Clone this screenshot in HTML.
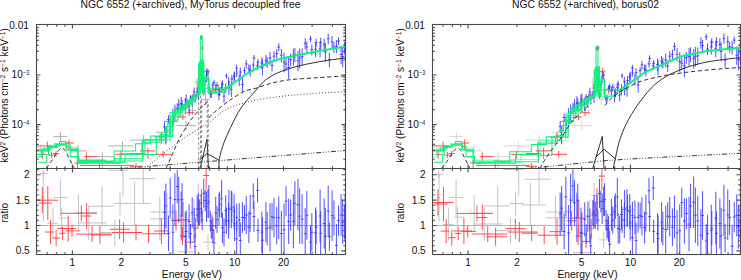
<!DOCTYPE html>
<html><head><meta charset="utf-8"><style>
html,body{margin:0;padding:0;background:#fff;width:741px;height:280px;overflow:hidden}
svg{display:block}
.t{font-family:"Liberation Sans",sans-serif;font-size:10.1px;fill:#111}
.tt{font-family:"Liberation Sans",sans-serif;font-size:10.35px;fill:#111}
.s{font-family:"Liberation Sans",sans-serif;font-size:6.6px;fill:#111}
</style></head><body>
<svg width="741" height="280" viewBox="0 0 741 280">
<defs><clipPath id="pc"><rect x="36.5" y="24.5" width="309" height="230"/><rect x="432.5" y="24.5" width="308" height="230"/></clipPath></defs><g clip-path="url(#pc)"><path d="M53.4 136.6H67.4M60.6 132V140.9M74.6 150.9H86M78.1 145.1V154.4M92.6 156.6H114M102.3 151.6V168M107.6 145.9H134M122.6 140.9V151.6M129.7 140.1H154.3M143.6 135.1V143.7M155.7 132.3H172.9M166.4 128V142.3M176.4 125.6H196.4M186 121V130M188.6 110.6H196.4M192.5 106V115M36.4 150H48M41 146V156M195 82.25H199.4M197 78V87M201 99.4H210M205.6 94V105M212 89.4H224M218.75 84V96" fill="none" stroke="#a8a8a8" stroke-width="0.9"/>
<path d="M36.4 145.9H52M47.4 141.6V151.6M65.3 143H73.9M68.9 139.4V149.4M39.6 154.4H46M42.4 150.9V158.7M48 155.1H55M51.7 151.6V158M53 153.5H59M56 150.9V156.6M74.6 163H86M77.4 160.1V168M84 156.6H97.6M86.6 152.3V160.9M80 165.4H134M99.5 163.7V168M115.4 154.4H128.3M121 150.5V158.5M130 153.5H145M142.9 149.4V158M140 150.9H155M147.9 148V158.7M155.7 154.4H171.4M163 151V157.8M154.3 137H164.3M161.4 132V144M130 166.3H141.4M136 163V168M165 121.3H178M173.6 118.4V124.1M178 117H186M182.9 114V120M186.4 112.7H194.3M189.3 109V116M190 97H196M192.9 94V100M203.75 71.25H209.75M206.9 68V75M200.5 48H204M202.5 45V51M196 88H200M198 84V92M209 90H219M213 87V94" fill="none" stroke="#ff3c3c" stroke-width="0.9"/>
<path d="M163.06 126.96H165.86M164.46 121.62V132.83M167.07 119.51H169.87M168.47 115.32V124.13M171.49 117.33H174.29M172.89 108.71V126.82M175.83 108.37H178.63M177.23 103.35V113.89M179.8 103.56H182.6M181.2 97.14V110.63M183.88 105.88H186.68M185.28 97.99V114.55M187.68 106.19H190.48M189.08 99.64V113.38M190.8 100.67H193.58M192.19 95.4V106.46M193.65 97.63H196.45M195.05 93.4V102.28M197 94.21H199.8M198.4 88.92V100.02M200.3 37.7H202.2M201.25 35.9V39.68M202.36 90.43H205.16M203.76 85.97V95.33M205.32 75.17H207.6M206.46 69.54V81.36M207.6 88H210.13M208.86 82.82V93.7M210.13 94.22H212.4M211.26 90.85V97.94M212.57 82.78H215.37M213.97 79.89V85.96M215.64 85.56H218.44M217.04 82.23V89.23M218.54 91.53H220.75M219.65 87.34V96.14M221.03 84.11H223.83M222.43 80.28V88.32M224.37 87.9H227.17M225.77 83.04V93.25M227.52 87.72H230.32M228.92 81.23V94.87M230.45 78.95H233.25M231.85 74.85V83.46M233.3 75.82H235.65M234.48 71.49V80.59M235.65 73.28H237.83M236.74 69.98V76.91M237.83 79.85H240.63M239.23 74.17V86.09M241.05 84.53H243.85M242.45 77.6V92.15M244.82 63.95H247.62M246.22 59.92V68.38M248.77 70.4H251.57M250.17 64.83V76.54M252.56 58.03H255.36M253.96 54.97V61.41M256.57 61.9H259.37M257.97 58.84V65.28M260.98 67.1H263.78M262.38 59.49V75.48M265.77 62.07H268.57M267.17 56.95V67.71M270.64 65.52H273.44M272.04 60.08V71.5M275.31 53.54H278.11M276.71 48.92V58.63M279.96 55.2H282.76M281.36 48.98V62.05M284.63 63.95H287.43M286.03 57.51V71.03M289.25 59.53H292.05M290.65 53.73V65.9M293.5 54.91H296.3M294.9 48.19V62.31M298.29 58.09H301.09M299.69 48.59V68.53M303.78 43.44H306.58M305.18 38.2V49.2M309.12 39.02H311.92M310.52 35.94V42.42M314.17 49.34H316.97M315.57 42.23V57.15M318.7 48.83H321.5M320.1 41.41V56.99M322.76 44.89H325.56M324.16 38.64V51.76M326.8 38.69H329.6M328.2 33.59V44.3M330.67 41.92H333.47M332.07 35.99V48.44M335.02 46.36H337.82M336.42 40.08V53.26M339.69 54.55H342.49M341.09 45.79V64.18M343.25 47.52H345.6M344.43 41.87V53.73M164.5 135.54H167.3M165.9 127.56V144.32M168.8 126.64H171.6M170.2 119.4V134.6M173.5 112.33H176.3M174.9 104.73V120.7M177.37 104.91H180.17M178.77 99.03V111.38M180.67 104.66H183.47M182.07 99.9V109.9M184.77 100H187.57M186.17 94.6V105.94M189.11 97.94H191.91M190.51 95.09V101.07M192.75 91.9H195.55M194.15 87.58V96.65M195.83 91.88H198.47M197.15 88.18V95.96M198.47 87.73H200.72M199.6 86.17V89.45M200.78 63.18H203.58M202.18 61.16V65.41M203.8 81.65H206.6M205.2 78.58V85.03M206.75 73.03H209.24M208 69.47V76.94M209.24 94.07H211.51M210.37 90.55V97.95M211.51 85.16H214.07M212.79 82.16V88.46M214.33 88.58H217.13M215.73 84.3V93.29M217.54 94.41H220.34M218.94 88.8V100.57M220.48 87.49H222.78M221.63 82.32V93.18M222.78 96.22H225.24M224.01 90.24V102.8M225.24 75.84H227.53M226.39 73.3V78.63M227.53 81.42H229.76M228.64 76.87V86.42M229.92 89.34H232.72M231.32 82.27V97.11M232.89 76.92H235.26M234.08 72.6V81.66M235.28 68.06H238.08M236.68 64.85V71.58M238.91 72.03H241.71M240.31 67.63V76.88M243.06 70.67H245.86M244.46 67.21V74.49M247.49 68.66H250.29M248.89 64.36V73.4M251.87 65.06H254.67M253.27 61.68V68.77M256.15 65.88H258.95M257.55 62.24V69.88M260.43 62.88H263.23M261.83 57.25V69.08M264.48 60.31H267.28M265.88 54.95V66.19M268.62 58.03H271.42M270.02 51.88V64.8M272.62 56.16H275.42M274.02 51.11V61.72M277.37 47.11H280.17M278.77 43.16V51.45M282.65 62.11H285.45M284.05 52.85V72.29M287.26 67.45H290.06M288.66 57.14V78.8M291.96 56.76H294.76M293.36 48.46V65.9M296.57 60.64H299.37M297.97 51.12V71.12M300.68 56.57H303.48M302.08 48.35V65.62M305.44 46.98H308.24M306.84 41.28V53.25M310.44 49.68H313.24M311.84 44.37V55.52M314.7 42.63H317.5M316.1 38.9V46.72M319.3 42.46H322.1M320.7 37.64V47.77M324.01 51.86H326.81M325.41 42.85V61.77M327.99 59.51H330.79M329.39 52.6V67.11M332.53 47.09H335.33M333.93 41.86V52.83M337.14 40.99H339.94M338.54 37.34V45.02M341.28 56.62H344.08M342.68 46.97V67.23M344.74 50.48H345.6M345.17 42.36V59.4" fill="none" stroke="#3a3aff" stroke-width="0.9"/>
<line x1="36.5" y1="225.5" x2="345.5" y2="225.5" stroke="#7ee45c" stroke-width="1"/>
<path d="M40 173.5H47.8M43.1 169.5V177.5M41 197H45M43.3 173V221M53.3 197.6H67.4M60.4 179.6V215.6M47.3 223.2H57.7M52.9 207.2V239.2M58.5 218H68.2M61.7 208V228M74.6 212.4H97.1M78.5 194.4V230.4M77.8 222.9H106.7M88.7 205.9V239.9M87.9 206.2H113.8M102 186.2V226.2M100.3 232.5H116.4M114.8 219.5V245.5M107.5 170.4H128M123 168.5V196.4M113.8 203.4H128M120 191.4V215.4M129.1 178.7H155.1M143.3 168.5V203.7M126 203.4H150.4M134.6 181.4V225.4M150.1 218.8H174.2M159.8 196.8V240.8M150 212H175M167 193V231M177.4 251.8H196.7M186.3 243.8V254.5M195.2 195.5H201.5M198.3 183.5V207.5M203.2 242.2H212.8M208 234.2V250.2M190 215H198M194 199V231" fill="none" stroke="#bcbcbc" stroke-width="0.9"/>
<path d="M36.4 200.2H58M42.3 187.2V213.2M38.4 203H52M47.8 186V220M44.8 232H53.7M50.5 220V244M52.9 238.1H60.1M56.1 230.1V246.1M59.3 233.3H65.7M62.5 226.8V239.8M57.7 228.5H76.2M68.2 215.5V241.5M65.7 230.9H80.2M72 224.9V236.9M61 213.3H97M81.3 205.3V221.3M81 216H91.5M86.6 203V229M76.2 234.1H111.6M92 226.1V242.1M90.7 234.9H111.6M99.9 225.9V243.9M110 229.3H130M119.6 219.3V239.3M112 232.5H142M123.6 222.5V242.5M126 232.5H142.1M136 224.5V240.5M142.1 233.8H169.4M148.5 224.8V242.8M154.1 231H168.6M161.4 218V244M171 220.5H180.7M176 210.5V230.5M176 220H190M183.1 202V238M186.3 242.2H194.3M190.3 235.7V248.7M196 215H200M198 201V229M200 203H202.5M201.3 189V217M203 175.5H209.3M206.2 168.5V189.5M209.3 226H216M212 214V238M193 228H198M195.5 218V238M180 236H186M182.5 227V245" fill="none" stroke="#ff3c3c" stroke-width="0.9"/>
<path d="M163.06 212.29H165.86M164.46 190.83V233.75M167.07 233.35H169.87M168.47 215.56V251.14M171.49 232.22H174.29M172.89 204.51V254.5M175.83 186.52H178.63M177.23 169.86V203.19M179.8 215.97H182.6M181.2 191.53V240.42M183.88 236.59H186.68M185.28 211.8V254.5M187.68 221.51H190.48M189.08 204.37V238.64M190.8 212.55H193.58M192.19 197.32V227.77M193.65 246.49H196.45M195.05 234.31V254.5M197 209.15H199.8M198.4 193.18V225.12M200.3 208.65H202.2M201.25 194.11V223.2M202.36 193.26H205.16M203.76 178.59V207.92M205.32 206.54H207.6M206.46 191.1V221.97M207.6 201.4H210.13M208.86 185.01V217.78M210.13 229.41H212.4M211.26 220.01V238.81M212.57 242.77H215.37M213.97 229.34V254.5M215.64 219.63H218.44M217.04 206.11V233.14M218.54 204.32H220.75M219.65 191.6V217.05M221.03 227.81H223.83M222.43 212.6V243.03M224.37 210.33H227.17M225.77 195.22V225.45M227.52 208.82H230.32M228.92 189.59V228.04M230.45 207.06H233.25M231.85 191.35V222.78M233.3 223.71H235.65M234.48 206.03V241.39M235.65 217.36H237.83M236.74 203.67V231.06M237.83 219.98H240.63M239.23 203.08V236.88M241.05 217.44H243.85M242.45 202.13V232.75M244.82 215.07H247.62M246.22 195.92V234.23M248.77 213.33H251.57M250.17 194.92V231.75M252.56 216.57H255.36M253.96 201.24V231.91M256.57 230.31H259.37M257.97 218.7V241.91M260.98 240.25H263.78M262.38 217.25V254.5M265.77 228.61H268.57M267.17 211.95V245.26M270.64 216.79H273.44M272.04 202.91V230.66M275.31 225.62H278.11M276.71 206.82V244.43M279.96 233.62H282.76M281.36 210.85V254.5M284.63 201.14H287.43M286.03 186.14V216.14M289.25 215.09H292.05M290.65 199.46V230.72M293.5 203.3H296.3M294.9 181.21V225.4M298.29 216.09H301.09M299.69 188.46V243.71M303.78 233.64H306.58M305.18 207.87V254.5M309.12 242.21H311.92M310.52 225.35V254.5M314.17 232.83H316.97M315.57 207.46V254.5M318.7 215.95H321.5M320.1 189.62V242.27M322.76 223.58H325.56M324.16 198.55V248.61M326.8 211.14H329.6M328.2 185.5V236.78M330.67 215.66H333.47M332.07 190.34V240.98M335.02 245.36H337.82M336.42 224.03V254.5M339.69 215.1H342.49M341.09 194.13V236.07M343.25 222.24H345.6M344.43 205.27V239.22M164.5 205.95H167.3M165.9 183.58V228.31M168.8 198.02H171.6M170.2 178.12V217.91M173.5 199.56H176.3M174.9 173.36V225.75M177.37 199.74H180.17M178.77 176.79V222.7M180.67 199.72H183.47M182.07 183.14V216.3M184.77 231.46H187.57M186.17 210.53V252.4M189.11 233.67H191.91M190.51 223.96V243.38M192.75 225.26H195.55M194.15 207.85V242.67M195.83 209.03H198.47M197.15 196.14V221.92M198.47 212.57H200.72M199.6 199.31V225.83M200.78 219.9H203.58M202.18 209.64V230.16M203.8 200.49H206.6M205.2 189.67V211.31M206.75 203.5H209.24M208 189V218M209.24 221.08H211.51M210.37 210.88V231.28M211.51 230.11H214.07M212.79 217.2V243.03M214.33 212.89H217.13M215.73 196.87V228.91M217.54 209.63H220.34M218.94 193.61V225.64M220.48 198.85H222.78M221.63 179.84V217.86M222.78 232.29H225.24M224.01 218.23V246.35M225.24 220.71H227.53M226.39 207.53V233.88M227.53 220.78H229.76M228.64 202.96V238.6M229.92 209.39H232.72M231.32 190.6V228.17M232.89 211.63H235.26M234.08 194.19V229.07M235.28 238.77H238.08M236.68 221.35V254.5M238.91 240.51H241.71M240.31 222.4V254.5M243.06 217.74H245.86M244.46 204.83V230.64M247.49 227.17H250.29M248.89 211.29V243.06M251.87 196.18H254.67M253.27 183.31V209.04M256.15 190.36H258.95M257.55 178.31V202.4M260.43 232.12H263.23M261.83 211.6V252.64M264.48 222.16H267.28M265.88 202.11V242.21M268.62 227.35H271.42M270.02 203.31V251.39M272.62 217.74H275.42M274.02 198.05V237.43M277.37 217.72H280.17M278.77 196.45V238.99M282.65 229.66H285.45M284.05 203.27V254.5M287.26 221.43H290.06M288.66 198.88V243.98M291.96 221.22H294.76M293.36 194.08V248.36M296.57 204.7H299.37M297.97 178.98V230.42M300.68 219.13H303.48M302.08 194.11V244.15M305.44 215.24H308.24M306.84 190.88V239.6M310.44 232.31H313.24M311.84 213.36V251.27M314.7 227.08H317.5M316.1 209.95V244.22M319.3 233.26H322.1M320.7 211.15V254.5M324.01 236.42H326.81M325.41 207.98V254.5M327.99 236.62H330.79M329.39 222.57V250.67M332.53 217.96H335.33M333.93 200.46V235.45M337.14 220.58H339.94M338.54 205.41V235.75M341.28 222.12H344.08M342.68 200.3V243.93M344.74 218.5H345.6M345.17 195.38V241.61" fill="none" stroke="#3a3aff" stroke-width="0.9"/>
<path d="M449.1 136.6H463.1M456.3 132V140.9M470.3 150.9H481.7M473.8 145.1V154.4M488.3 156.6H509.7M498 151.6V168M503.3 145.9H529.7M518.3 140.9V151.6M525.4 140.1H550M539.3 135.1V143.7M551.4 132.3H568.6M562.1 128V142.3M572.1 125.6H592.1M581.7 121V130M584.3 110.6H592.1M588.2 106V115M432.1 150H443.7M436.7 146V156M590.7 82.25H595.1M592.7 78V87M596.7 99.4H605.7M601.3 94V105M607.7 89.4H619.7M614.45 84V96" fill="none" stroke="#d2d2d2" stroke-width="0.9"/>
<path d="M432.1 145.9H447.7M443.1 141.6V151.6M461 143H469.6M464.6 139.4V149.4M435.3 154.4H441.7M438.1 150.9V158.7M443.7 155.1H450.7M447.4 151.6V158M448.7 153.5H454.7M451.7 150.9V156.6M470.3 163H481.7M473.1 160.1V168M479.7 156.6H493.3M482.3 152.3V160.9M475.7 165.4H529.7M495.2 163.7V168M511.1 154.4H524M516.7 150.5V158.5M525.7 153.5H540.7M538.6 149.4V158M535.7 150.9H550.7M543.6 148V158.7M551.4 154.4H567.1M558.7 151V157.8M550 137H560M557.1 132V144M525.7 166.3H537.1M531.7 163V168M560.7 121.3H573.7M569.3 118.4V124.1M573.7 117H581.7M578.6 114V120M582.1 112.7H590M585 109V116M585.7 97H591.7M588.6 94V100M599.45 71.25H605.45M602.6 68V75M596.2 48H599.7M598.2 45V51M591.7 88H595.7M593.7 84V92M604.7 90H614.7M608.7 87V94" fill="none" stroke="#ff3c3c" stroke-width="0.9"/>
<path d="M558.76 126.54H561.56M560.16 121.07V132.55M562.77 117.5H565.57M564.17 113.48V121.92M567.19 116.92H569.99M568.59 108.19V126.51M571.53 107.89H574.33M572.93 102.9V113.37M575.5 102.82H578.3M576.9 96.27V110.02M579.58 101.81H582.38M580.98 94.55V109.79M583.38 103.9H586.18M584.78 97.57V110.86M586.5 101.41H589.28M587.89 95.83V107.56M589.35 97.35H592.15M590.75 93.2V101.91M592.7 96.85H595.5M594.1 91.42V102.82M596 48.63H597.9M596.95 46.81V50.64M598.06 93.76H600.86M599.46 89.29V98.67M601.02 77.18H603.3M602.16 71.41V83.53M603.3 92H605.83M604.56 86.93V97.57M605.83 98.49H608.1M606.96 95.13V102.18M608.27 86.66H611.07M609.67 83.65V89.98M611.34 87.21H614.14M612.74 83.85V90.91M614.24 92.66H616.45M615.35 88.38V97.38M616.73 84.67H619.53M618.13 80.8V88.92M620.07 89.49H622.87M621.47 84.34V95.16M623.22 88.1H626.02M624.62 81.57V95.29M626.15 80.32H628.95M627.55 76.03V85.05M629 75.9H631.35M630.18 71.63V80.59M631.35 73.11H633.53M632.44 69.9V76.64M633.53 79.42H636.33M634.93 73.95V85.43M636.75 85.04H639.55M638.15 78.13V92.64M640.52 64.89H643.32M641.92 60.78V69.42M644.47 70.3H647.27M645.87 64.73V76.42M648.26 58.31H651.06M649.66 55.25V61.68M652.27 63.24H655.07M653.67 60.1V66.69M656.68 67.13H659.48M658.08 59.78V75.2M661.47 62.95H664.27M662.87 57.84V68.57M666.34 65.97H669.14M667.74 60.58V71.89M671.01 54.36H673.81M672.41 49.59V59.6M675.66 54.28H678.46M677.06 48.15V61.03M680.33 63.07H683.13M681.73 56.52V70.28M684.95 57.63H687.75M686.35 51.96V63.87M689.2 54.34H692M690.6 47.39V61.97M693.99 56.39H696.79M695.39 46.99V66.73M699.48 42.82H702.28M700.88 37.4V48.78M704.82 36.86H707.62M706.22 33.87V40.14M709.87 47.05H712.67M711.27 40.29V54.49M714.4 48.89H717.2M715.8 41.25V57.3M718.46 44.45H721.26M719.86 38.21V51.33M722.5 38.29H725.3M723.9 33.24V43.84M726.37 41.78H729.17M727.77 35.92V48.22M730.72 47.32H733.52M732.12 40.89V54.39M735.39 55.17H738.19M736.79 46.38V64.84M738.95 48.3H741.3M740.13 42.63V54.55M560.2 135.24H563M561.6 127.04V144.26M564.5 125.29H567.3M565.9 118.15V133.15M569.2 112.14H572M570.6 104.49V120.55M573.07 105.15H575.87M574.47 99.05V111.87M576.37 103.37H579.17M577.77 98.58V108.64M580.47 99.12H583.27M581.87 93.49V105.31M584.81 97H587.61M586.21 94.13V100.16M588.45 92.07H591.25M589.85 87.69V96.89M591.53 94.61H594.17M592.85 90.69V98.92M594.17 91.86H596.42M595.3 90.22V93.66M596.48 71.11H599.28M597.88 69.08V73.35M599.5 84.48H602.3M600.9 81.38V87.9M602.45 75.42H604.94M603.7 71.96V79.23M604.94 98.69H607.21M606.07 95.2V102.53M607.21 88.24H609.77M608.49 85.3V91.47M610.03 91.25H612.83M611.43 86.86V96.09M613.24 95.91H616.04M614.64 90.14V102.26M616.18 87.41H618.48M617.33 82.34V92.98M618.48 95.12H620.94M619.71 89.45V101.36M620.94 75.73H623.23M622.09 73.23V78.48M623.23 81.36H625.46M624.34 76.87V86.3M625.62 89.14H628.42M627.02 82.2V96.78M628.59 77.26H630.96M629.78 72.96V82M630.98 67.96H633.78M632.38 64.84V71.4M634.61 72.59H637.41M636.01 68.18V77.45M638.76 70.48H641.56M640.16 67.12V74.16M643.19 68.87H645.99M644.59 64.54V73.63M647.57 63.83H650.37M648.97 60.65V67.32M651.85 66.07H654.65M653.25 62.52V69.97M656.13 64.61H658.93M657.53 58.79V71.01M660.18 61.31H662.98M661.58 55.95V67.21M664.32 59.94H667.12M665.72 53.52V67M668.32 56.21H671.12M669.72 51.24V61.68M673.07 46.58H675.87M674.47 42.69V50.87M678.35 61.55H681.15M679.75 52.12V71.92M682.96 65.91H685.76M684.36 55.65V77.18M687.66 56.54H690.46M689.06 47.86V66.08M692.27 58.53H695.07M693.67 49.26V68.73M696.38 55.82H699.18M697.78 47.38V65.1M701.14 45.63H703.94M702.54 39.91V51.93M706.14 49.07H708.94M707.54 43.6V55.07M710.4 42.13H713.2M711.8 38.33V46.32M715 41.93H717.8M716.4 37.08V47.26M719.71 51.39H722.51M721.11 42.43V61.25M723.69 60.17H726.49M725.09 53.07V67.99M728.23 47.14H731.03M729.63 41.96V52.83M732.84 40.08H735.64M734.24 36.63V43.88M736.98 59.23H739.78M738.38 48.83V70.66M740.44 51.4H741.3M740.87 43.21V60.41" fill="none" stroke="#3a3aff" stroke-width="0.9"/>
<line x1="432.5" y1="225.5" x2="740.5" y2="225.5" stroke="#7ee45c" stroke-width="1"/>
<path d="M435.7 174.62H443.5M438.8 170.62V178.62M436.7 197.71H440.7M439 173.71V221.71M449 197.66H463.1M456.1 179.66V215.66M443 224.55H453.4M448.6 208.55V240.55M454.2 217.24H463.9M457.4 207.24V227.24M470.3 213.19H492.8M474.2 195.19V231.19M473.5 224.01H502.4M484.4 207.01V241.01M483.6 205.91H509.5M497.7 185.91V225.91M496 230.71H512.1M510.5 217.71V243.71M503.2 169.49H523.7M518.7 168.5V195.49M509.5 203.64H523.7M515.7 191.64V215.64M524.8 179.23H550.8M539 168.5V204.23M521.7 204.95H546.1M530.3 182.95V226.95M545.8 217.8H569.9M555.5 195.8V239.8M545.7 212H570.7M562.7 193V231M573.1 252.45H592.4M582 244.45V254.5M590.9 195.34H597.2M594 183.34V207.34M598.9 239.83H608.5M603.7 231.83V247.83M585.7 215.81H593.7M589.7 199.81V231.81" fill="none" stroke="#bcbcbc" stroke-width="0.9"/>
<path d="M432.1 202.51H453.7M438 189.51V215.51M434.1 204H447.7M443.5 187V221M440.5 231.08H449.4M446.2 219.08V243.08M448.6 237.69H455.8M451.8 229.69V245.69M455 233.52H461.4M458.2 227.02V240.02M453.4 230.99H471.9M463.9 217.99V243.99M461.4 231.52H475.9M467.7 225.52V237.52M456.7 213.41H492.7M477 205.41V221.41M476.7 217.56H487.2M482.3 204.56V230.56M471.9 234.02H507.3M487.7 226.02V242.02M486.4 236.76H507.3M495.6 227.76V245.76M505.7 228.61H525.7M515.3 218.61V238.61M507.7 232.03H537.7M519.3 222.03V242.03M521.7 233.22H537.8M531.7 225.22V241.22M537.8 235.22H565.1M544.2 226.22V244.22M549.8 231.65H564.3M557.1 218.65V244.65M566.7 220.8H576.4M571.7 210.8V230.8M571.7 218.18H585.7M578.8 200.18V236.18M582 241.49H590M586 234.99V247.99M591.7 214.39H595.7M593.7 200.39V228.39M595.7 202.47H598.2M597 188.47V216.47M598.7 176.09H605M601.9 168.5V190.09M605 225.66H611.7M607.7 213.66V237.66M588.7 228.79H593.7M591.2 218.79V238.79M575.7 236.08H581.7M578.2 227.08V245.08" fill="none" stroke="#ff3c3c" stroke-width="0.9"/>
<path d="M558.76 213.99H561.56M560.16 192.53V235.45M562.77 231.28H565.57M564.17 213.49V249.08M567.19 232.85H569.99M568.59 205.14V254.5M571.53 185.86H574.33M572.93 169.19V202.53M575.5 217.34H578.3M576.9 192.89V241.78M579.58 232.44H582.38M580.98 207.65V254.5M583.38 219.33H586.18M584.78 202.19V236.46M586.5 216.64H589.28M587.89 201.41V231.86M589.35 245.85H592.15M590.75 233.67V254.5M592.7 211.14H595.5M594.1 195.17V227.11M596 209.3H597.9M596.95 194.76V223.84M598.06 193.47H600.86M599.46 178.81V208.14M601.02 208.51H603.3M602.16 193.07V223.94M603.3 199.52H605.83M604.56 183.13V215.9M605.83 229.14H608.1M606.96 219.74V238.54M608.27 244.27H611.07M609.67 230.83V254.5M611.34 220.13H614.14M612.74 206.61V233.64M614.24 206.1H616.45M615.35 193.37V218.82M616.73 228.3H619.53M618.13 213.08V243.52M620.07 214.45H622.87M621.47 199.33V229.57M623.22 209.26H626.02M624.62 190.04V228.49M626.15 210.51H628.95M627.55 194.79V226.23M629 222.87H631.35M630.18 205.19V240.54M631.35 215.58H633.53M632.44 201.89V229.27M633.53 217.43H636.33M634.93 200.54V234.33M636.75 217.24H639.55M638.15 201.92V232.55M640.52 216.5H643.32M641.92 197.34V235.66M644.47 213.21H647.27M645.87 194.8V231.62M648.26 216.5H651.06M649.66 201.16V231.83M652.27 231.4H655.07M653.67 219.79V243M656.68 238.66H659.48M658.08 215.67V254.5M661.47 228.47H664.27M662.87 211.81V245.12M666.34 216.17H669.14M667.74 202.3V230.05M671.01 227.37H673.81M672.41 208.56V246.18M675.66 232.89H678.46M677.06 210.13V254.5M680.33 202.63H683.13M681.73 187.63V217.63M684.95 213.58H687.75M686.35 197.95V229.21M689.2 205.99H692M690.6 183.89V228.09M693.99 215.28H696.79M695.39 187.65V242.9M699.48 235.23H702.28M700.88 209.45V254.5M704.82 240.95H707.62M706.22 224.09V254.5M709.87 230.24H712.67M711.27 204.87V254.5M714.4 218.08H717.2M715.8 191.76V244.4M718.46 223.55H721.26M719.86 198.52V248.58M722.5 210.32H725.3M723.9 184.68V235.95M726.37 214.86H729.17M727.77 189.54V240.19M730.72 246.19H733.52M732.12 224.87V254.5M735.39 215.35H738.19M736.79 194.37V236.32M738.95 222.55H741.3M740.13 205.57V239.53M560.2 208.2H563M561.6 185.83V230.56M564.5 196.71H567.3M565.9 176.82V216.61M569.2 200.11H572M570.6 173.91V226.31M573.07 202.88H575.87M574.47 179.92V225.83M576.37 200.25H579.17M577.77 183.67V216.83M580.47 233.52H583.27M581.87 212.59V254.46M584.81 233.99H587.61M586.21 224.27V243.7M588.45 226.05H591.25M589.85 208.64V243.46M591.53 213H594.17M592.85 200.11V225.89M594.17 215.78H596.42M595.3 202.52V229.04M596.48 220.26H599.28M597.88 210V230.52M599.5 201.43H602.3M600.9 190.61V212.25M602.45 201.33H604.94M603.7 186.84V215.83M604.94 220.42H607.21M606.07 210.22V230.63M607.21 229.1H609.77M608.49 216.19V242.02M610.03 214.73H612.83M611.43 198.71V230.75M613.24 211.84H616.04M614.64 195.82V227.86M616.18 196.98H618.48M617.33 177.97V215.99M618.48 229.55H620.94M619.71 215.48V243.61M620.94 219.88H623.23M622.09 206.71V233.05M623.23 220.02H625.46M624.34 202.2V237.84M625.62 207.96H628.42M627.02 189.17V226.74M628.59 211.48H630.96M629.78 194.04V228.93M630.98 237.77H633.78M632.38 220.35V254.5M634.61 240.54H637.41M636.01 222.43V254.5M638.76 215.57H641.56M640.16 202.67V228.48M643.19 227.52H645.99M644.59 211.64V243.4M647.57 190.69H650.37M648.97 177.83V203.55M651.85 187.95H654.65M653.25 175.9V200M656.13 233.68H658.93M657.53 213.16V254.2M660.18 222.31H662.98M661.58 202.26V242.37M664.32 229.66H667.12M665.72 205.62V253.7M668.32 216.75H671.12M669.72 197.06V236.43M673.07 216.84H675.87M674.47 195.57V238.11M678.35 230.7H681.15M679.75 204.3V254.5M682.96 221H685.76M684.36 198.45V243.55M687.66 224.09H690.46M689.06 196.94V251.23M692.27 202.29H695.07M693.67 176.57V228.01M696.38 220.87H699.18M697.78 195.85V245.89M701.14 215.5H703.94M702.54 191.14V239.86M706.14 233.72H708.94M707.54 214.77V252.68M710.4 228.22H713.2M711.8 211.09V245.36M715 233.53H717.8M716.4 211.42V254.5M719.71 236.18H722.51M721.11 207.73V254.5M723.69 237.91H726.49M725.09 223.86V251.96M728.23 217.38H731.03M729.63 199.89V234.88M732.84 216.95H735.64M734.24 201.78V232.11M736.98 226.94H739.78M738.38 205.12V248.76M740.44 219.14H741.3M740.87 196.03V242.26" fill="none" stroke="#3a3aff" stroke-width="0.9"/>
<path d="M36.4 150.1H48.9V145.9H59.6V141.6H66V146.6H70.3V150.9H77.4V161.9H114.1V150.9H135.6V143.7H150.6V135.9H172.5V112.5H182.5V105H190V99H195V95H198.5V63.92H201.8V88.28H204.5V88.32H232 M36.4 154.4H43.1V148H51.7V145.9H54.6V143.7H60.3V145.1H66.7V149.4H77.4V160.9H115V158.75H142.5V140H170V112.5H176V107.5H187.5V100H193V97H197V94.12H199.8V62H203V93.11H205.2V77.09H208.8V91.92H226 M38.1 162.3H46.7V154.4H48.5V147H56V144.2H59.6V143.7H66V149.4H70.3V156.6H78.9V163.2H120V160.9H142.7V154.4H156.25V136.5H172.5V117H180V109H186V104H192V98H196V94.59H199.3V62H202.5V93.24H205V78.54H209V93H218 M36.4 150.9H44.6V148H51.7V145.9H59.6V145.1H66.7V150H77.4V162.3H99V161H120V153.7H142V142.3H160V134.4H170V120H178V110H185V104H191V99H196V94.65H199V79.77H201V62H203.5V92.96H205.2V77.09H208.8V93.09H213 M36.4 157H42V151H50V147.5H57V144.5H64V143.7H70V148H78V160H105V162.5H125V154.4H145V139.4H165V130H173V115H181V108H188V102H195V95.12H199V79.77H201V65.33H204V79.63H208V92.43H214" fill="none" stroke="#10f07a" stroke-width="1.05"/>
<path d="M162.5 132.22H166.41V126.51H170.52V116.04H175.26V109.69H179.2V107.09H183.21V104.49H187.36V101.58H190.8V98.86H193.58V96.31H196.51V93.35H200.3V35.81H202.2V91.84H205.32 M164 131.63H167.8V122.71H172.6V113.1H177.21V109.24H180.33V107.14H183.82V104.47H188.53V100.93H192.48V97.73H195.83V94.88H198.47V89.1H200.72V60H203.65V85.25H206.75" fill="none" stroke="#10f07a" stroke-width="1.05"/>
<path d="M221 91.25 L222 90.72 L223 90.19 L224 89.63 L225 88.97 L226 88.31 L227 87.65 L228 86.98 L229 86.32 L230 85.66 L231 84.99 L232 84.33 L233 83.63 L234 82.9 L235 82.16 L236 81.42 L237 80.69 L238 79.95 L239 79.22 L240 78.48 L241 77.74 L242 77.01 L243 76.27 L244 75.54 L245 74.8 L246 74.24 L247 73.68 L248 73.12 L249 72.56 L250 72 L251 71.44 L252 70.88 L253 70.32 L254 69.76 L255 69.2 L256 68.64 L257 68.08 L258 67.58 L259 67.13 L260 66.68 L261 66.23 L262 65.78 L263 65.34 L264 64.89 L265 64.44 L266 63.99 L267 63.54 L268 63.1 L269 62.65 L270 62.2 L271 61.88 L272 61.56 L273 61.24 L274 60.92 L275 60.6 L276 60.28 L277 59.96 L278 59.64 L279 59.32 L280 59 L281 58.68 L282 58.36 L283 58.1 L284 57.9 L285 57.69 L286 57.49 L287 57.29 L288 57.09 L289 56.89 L290 56.68 L291 56.48 L292 56.28 L293 56.09 L294 55.89 L295 55.7 L296 55.5 L297 55.31 L298 55.11 L299 54.92 L300 54.72 L301 54.52 L302 54.33 L303 54.13 L304 53.94 L305 53.74 L306 53.55 L307 53.35 L308 53.16 L309 52.96 L310 52.77 L311 52.57 L312 52.38 L313 52.18 L314 52 L315 51.83 L316 51.65 L317 51.47 L318 51.29 L319 51.12 L320 50.94 L321 50.76 L322 50.58 L323 50.41 L324 50.23 L325 50.05 L326 49.87 L327 49.7 L328 49.52 L329 49.34 L330 49.16 L331 48.99 L332 48.81 L333 48.63 L334 48.45 L335 48.3 L336 48.16 L337 48.02 L338 47.88 L339 47.73 L340 47.59 L341 47.45 L342 47.31 L343 47.17 L344 47.03 L345 46.88" fill="none" stroke="#10f07a" stroke-width="2" stroke-linejoin="round"/>
<path d="M432.1 150.1H444.6V145.9H455.3V141.6H461.7V146.6H466V150.9H473.1V161.9H509.8V151.7H531.3V144.5H546.3V136.7H568.2V113.3H578.2V105.8H585.7V99.8H590.7V95.8H594.2V70.57H597.5V92.12H600.2V89.93H627.7 M433.8 162.3H442.4V154.4H444.2V147H451.7V144.2H455.3V143.7H461.7V149.4H466V156.6H474.6V163.2H515.7V161.7H538.4V155.2H551.95V137.3H568.2V117.8H575.7V109.8H581.7V104.8H587.7V98.8H591.7V96.24H595V68H598.2V96.47H600.7V80.97H604.7V96.21H613.7 M432.1 150.9H440.3V148H447.4V145.9H455.3V145.1H462.4V150H473.1V162.3H494.7V161H515.7V154.5H537.7V143.1H555.7V135.2H565.7V120.8H573.7V110.8H580.7V104.8H586.7V99.8H591.7V96.24H594.7V84.18H596.7V68H599.2V96.25H600.9V79.32H604.5V97.63H608.7" fill="none" stroke="#10f07a" stroke-width="1.05"/>
<path d="M432.1 154.4H438.8V148H447.4V145.9H450.3V143.7H456V145.1H462.4V149.4H473.1V160.9H510.7V159.55H538.2V140.8H565.7V113.3H571.7V108.3H583.2V100.8H588.7V97.8H592.7V96.13H595.5V68H598.7V96.36H600.9V79.32H604.5V93.86H621.7 M432.1 157H437.7V151H445.7V147.5H452.7V144.5H459.7V143.7H465.7V148H473.7V160H500.7V162.5H520.7V155.2H540.7V140.2H560.7V130.8H568.7V115.8H576.7V108.8H583.7V102.8H590.7V96.39H594.7V84.18H596.7V72.26H599.7V81.78H603.7V96.72H609.7" fill="none" stroke="#10f07a" stroke-width="1.05" stroke-opacity="0.45"/>
<path d="M558.2 131.22H562.11V125.51H566.22V115.31H570.96V109.37H574.9V105.86H578.91V102.57H583.06V100.13H586.5V98.17H589.28V96.49H592.21V95.34H596V46.53H597.9V95.12H601.02 M559.7 130.63H563.5V121.72H568.3V112.74H572.91V108.58H576.03V105.7H579.52V102.57H584.23V99.84H588.18V97.56H591.53V96.3H594.17V92.12H596.42V66.51H599.35V87.81H602.45" fill="none" stroke="#10f07a" stroke-width="1.05"/>
<path d="M616.7 91.73 L617.7 91.12 L618.7 90.47 L619.7 89.82 L620.7 89.16 L621.7 88.51 L622.7 87.86 L623.7 87.21 L624.7 86.56 L625.7 85.9 L626.7 85.25 L627.7 84.6 L628.7 83.95 L629.7 83.3 L630.7 82.6 L631.7 81.88 L632.7 81.17 L633.7 80.45 L634.7 79.73 L635.7 79.02 L636.7 78.3 L637.7 77.59 L638.7 76.87 L639.7 76.15 L640.7 75.44 L641.7 74.72 L642.7 74.01 L643.7 73.29 L644.7 72.57 L645.7 71.86 L646.7 71.3 L647.7 70.89 L648.7 70.48 L649.7 70.07 L650.7 69.66 L651.7 69.26 L652.7 68.85 L653.7 68.44 L654.7 68.03 L655.7 67.62 L656.7 67.19 L657.7 66.73 L658.7 66.29 L659.7 65.84 L660.7 65.39 L661.7 64.94 L662.7 64.48 L663.7 64.04 L664.7 63.59 L665.7 63.14 L666.7 62.69 L667.7 62.24 L668.7 61.79 L669.7 61.34 L670.7 60.89 L671.7 60.44 L672.7 59.99 L673.7 59.54 L674.7 59.09 L675.7 58.64 L676.7 58.19 L677.7 57.74 L678.7 57.29 L679.7 56.84 L680.7 56.39 L681.7 56.11 L682.7 55.91 L683.7 55.71 L684.7 55.51 L685.7 55.31 L686.7 55.11 L687.7 54.91 L688.7 54.71 L689.7 54.51 L690.7 54.31 L691.7 54.11 L692.7 53.91 L693.7 53.71 L694.7 53.51 L695.7 53.31 L696.7 53.11 L697.7 52.91 L698.7 52.71 L699.7 52.51 L700.7 52.31 L701.7 52.11 L702.7 51.91 L703.7 51.71 L704.7 51.51 L705.7 51.31 L706.7 51.18 L707.7 51.07 L708.7 50.96 L709.7 50.86 L710.7 50.75 L711.7 50.64 L712.7 50.54 L713.7 50.43 L714.7 50.33 L715.7 50.22 L716.7 50.11 L717.7 50.01 L718.7 49.9 L719.7 49.79 L720.7 49.69 L721.7 49.58 L722.7 49.48 L723.7 49.37 L724.7 49.26 L725.7 49.16 L726.7 49.05 L727.7 48.94 L728.7 48.84 L729.7 48.73 L730.7 48.63 L731.7 48.52 L732.7 48.41 L733.7 48.31 L734.7 48.2 L735.7 48.09 L736.7 47.99 L737.7 47.88 L738.7 47.78 L739.7 47.67 L740.7 47.56" fill="none" stroke="#10f07a" stroke-width="2" stroke-linejoin="round"/>
<path d="M219 160.2C219.4 158.58 220.57 153.45 221.4 150.5C222.23 147.55 222.9 145.42 224 142.5C225.1 139.58 226.5 136.33 228 133C229.5 129.67 231.28 125.95 233 122.5C234.72 119.05 236.47 115.38 238.3 112.3C240.13 109.22 241.97 106.63 244 104C246.03 101.37 248.33 99 250.5 96.5C252.67 94 254.79 91.5 257 89C259.21 86.5 261.58 83.5 263.75 81.5C265.92 79.5 267.92 78.33 270 77C272.08 75.67 273.12 74.9 276.25 73.5C279.38 72.1 284.58 69.95 288.75 68.6C292.92 67.25 297.38 66.32 301.25 65.4C305.12 64.48 308.04 63.87 312 63.1C315.96 62.33 320.54 61.52 325 60.8C329.46 60.08 335.32 59.28 338.75 58.8C342.18 58.32 344.46 58.05 345.6 57.9" fill="none" stroke="#1a1a1a" stroke-width="0.9"/>
<path d="M200.2 168.4 L207 139.2 L208.5 168.4" fill="none" stroke="#1a1a1a" stroke-width="0.9"/>
<path d="M199.5 160 L207 153.5 L219 160.2 L219 168.4" fill="none" stroke="#1a1a1a" stroke-width="0.9"/>
<path d="M166 168.4C167 166.17 169.88 159.73 172 155C174.12 150.27 176.58 144.33 178.75 140C180.92 135.67 183.12 132.17 185 129C186.88 125.83 187.5 124.33 190 121C192.5 117.67 197.08 112.17 200 109C202.92 105.83 206.25 103.17 207.5 102" fill="none" stroke="#1a1a1a" stroke-width="0.9" stroke-dasharray="4.2 2.6"/>
<path d="M208.6 118C209.5 117.08 211.89 114.38 214 112.5C216.11 110.62 218.92 108.58 221.25 106.75C223.58 104.92 225.71 103.17 228 101.5C230.29 99.83 232.17 98.5 235 96.75C237.83 95 241.46 92.44 245 91C248.54 89.56 252.08 89.33 256.25 88.1C260.42 86.87 265.62 84.82 270 83.6C274.38 82.38 278.33 81.53 282.5 80.8C286.67 80.07 290.08 79.65 295 79.2C299.92 78.75 307 78.43 312 78.1C317 77.77 320.54 77.5 325 77.2C329.46 76.9 335.32 76.52 338.75 76.3C342.18 76.08 344.46 75.97 345.6 75.9" fill="none" stroke="#1a1a1a" stroke-width="0.9" stroke-dasharray="4.2 2.6"/>
<path d="M145 168.4C147.5 166.33 154.17 160.57 160 156C165.83 151.43 174.17 145.17 180 141C185.83 136.83 190.33 133.92 195 131C199.67 128.08 203.83 126.42 208 123.5C212.17 120.58 216.67 116 220 113.5C223.33 111 224.67 110.08 228 108.5C231.33 106.92 235.17 105.43 240 104C244.83 102.57 250.33 101.15 257 99.9C263.67 98.65 272.83 97.4 280 96.5C287.17 95.6 293.33 95.08 300 94.5C306.67 93.92 312.4 93.45 320 93C327.6 92.55 341.33 92 345.6 91.8" fill="none" stroke="#1a1a1a" stroke-width="0.9" stroke-dasharray="0.9 2.2"/>
<path d="M123 168.4 L345.6 150.5" fill="none" stroke="#1a1a1a" stroke-width="0.9" stroke-dasharray="5 1.8 0.9 1.8 0.9 1.8 0.9 1.8"/>
<path d="M46 168.4C46.67 167.5 48.67 164.82 50 163C51.33 161.18 52.67 159.5 54 157.5C55.33 155.5 56.65 152.58 58 151C59.35 149.42 60.93 148.08 62.1 148C63.27 147.92 64.02 149.17 65 150.5C65.98 151.83 67 154.08 68 156C69 157.92 69.93 159.93 71 162C72.07 164.07 73.83 167.33 74.4 168.4" fill="none" stroke="#1a1a1a" stroke-width="0.9" stroke-dasharray="4.2 2.6"/>
<path d="M198.7 97 L198.7 168.4" fill="none" stroke="#666" stroke-width="0.75" stroke-dasharray="3 2"/>
<path d="M200.6 95.5 L200.6 168.4" fill="none" stroke="#666" stroke-width="0.75" stroke-dasharray="3 2"/>
<path d="M201.6 100 L201.6 168.4" fill="none" stroke="#666" stroke-width="0.75" stroke-dasharray="3 2"/>
<path d="M207.2 100 L207.2 168.4" fill="none" stroke="#666" stroke-width="0.75" stroke-dasharray="3 2"/>
<path d="M208.2 104 L208.2 168.4" fill="none" stroke="#666" stroke-width="0.75" stroke-dasharray="3 2"/>
<path d="M613.3 168.4C613.7 166.5 614.7 161.5 615.7 157C616.7 152.5 617.52 146.97 619.3 141.4C621.08 135.83 623.43 129.55 626.4 123.6C629.37 117.65 632.93 111.65 637.1 105.7C641.27 99.75 646.75 92.67 651.4 87.9C656.05 83.13 660.07 80.17 665 77.1C669.93 74.03 676.38 71.43 681 69.5C685.62 67.57 688.53 66.72 692.7 65.5C696.87 64.28 700.83 63.2 706 62.2C711.17 61.2 717.82 60.28 723.7 59.5C729.58 58.72 738.37 57.83 741.3 57.5" fill="none" stroke="#1a1a1a" stroke-width="0.9"/>
<path d="M592.7 168.4 L602.3 136.3 L604 168.4" fill="none" stroke="#1a1a1a" stroke-width="0.9"/>
<path d="M595.9 157.2 L604 149.1 L615.2 158.8" fill="none" stroke="#1a1a1a" stroke-width="0.9"/>
<path d="M539.6 168.4C540.42 167.07 542.32 163.72 544.5 160.4C546.68 157.08 549.75 152.52 552.7 148.5C555.65 144.48 559.02 140.75 562.2 136.3C565.38 131.85 568.05 126.35 571.8 121.8C575.55 117.25 581.38 112.13 584.7 109C588.02 105.87 590.53 104 591.7 103" fill="none" stroke="#1a1a1a" stroke-width="0.9" stroke-dasharray="4.2 2.6"/>
<path d="M604.7 105.5C605.87 104.25 609.2 100.25 611.7 98C614.2 95.75 617.07 93.75 619.7 92C622.33 90.25 624.53 89.08 627.5 87.5C630.47 85.92 633.75 83.96 637.5 82.5C641.25 81.04 645 80 650 78.75C655 77.5 661.55 76.06 667.5 75C673.45 73.94 679.33 73.2 685.7 72.4C692.07 71.6 699.03 70.85 705.7 70.2C712.37 69.55 719.77 68.95 725.7 68.5C731.63 68.05 738.7 67.67 741.3 67.5" fill="none" stroke="#1a1a1a" stroke-width="0.9" stroke-dasharray="4.2 2.6"/>
<path d="M528.7 168.4C533.2 167.97 546.2 166.77 555.7 165.8C565.2 164.83 575.82 163.57 585.7 162.6C595.58 161.63 603.33 160.83 615 160C626.67 159.17 642.25 158.33 655.7 157.6C669.15 156.87 681.43 156.32 695.7 155.6C709.97 154.88 733.7 153.68 741.3 153.3" fill="none" stroke="#1a1a1a" stroke-width="0.9" stroke-dasharray="5 1.8 0.9 1.8 0.9 1.8 0.9 1.8"/>
<path d="M441.7 168.4C442.37 167.5 444.37 164.82 445.7 163C447.03 161.18 448.37 159.5 449.7 157.5C451.03 155.5 452.35 152.58 453.7 151C455.05 149.42 456.63 148.08 457.8 148C458.97 147.92 459.72 149.17 460.7 150.5C461.68 151.83 462.7 154.08 463.7 156C464.7 157.92 465.63 159.93 466.7 162C467.77 164.07 469.53 167.33 470.1 168.4" fill="none" stroke="#1a1a1a" stroke-width="0.9" stroke-dasharray="4.2 2.6"/></g>
<rect x="36.5" y="24.5" width="309" height="230" fill="none" stroke="#4a4a4a" stroke-width="1.1"/>
<line x1="36.5" y1="168.5" x2="345.5" y2="168.5" stroke="#4a4a4a" stroke-width="1.1"/>
<path d="M47.26 24.5v2.2 M47.26 168.5v-2.2 M47.26 168.5v2.2 M47.26 254.5v-2.2 M56.67 24.5v2.2 M56.67 168.5v-2.2 M56.67 168.5v2.2 M56.67 254.5v-2.2 M64.97 24.5v2.2 M64.97 168.5v-2.2 M64.97 168.5v2.2 M64.97 254.5v-2.2 M72.4 24.5v4 M72.4 168.5v-4 M72.4 168.5v4 M72.4 254.5v-4 M121.26 24.5v2.2 M121.26 168.5v-2.2 M121.26 168.5v2.2 M121.26 254.5v-2.2 M149.84 24.5v2.2 M149.84 168.5v-2.2 M149.84 168.5v2.2 M149.84 254.5v-2.2 M170.11 24.5v2.2 M170.11 168.5v-2.2 M170.11 168.5v2.2 M170.11 254.5v-2.2 M185.84 24.5v2.2 M185.84 168.5v-2.2 M185.84 168.5v2.2 M185.84 254.5v-2.2 M198.69 24.5v2.2 M198.69 168.5v-2.2 M198.69 168.5v2.2 M198.69 254.5v-2.2 M209.56 24.5v2.2 M209.56 168.5v-2.2 M209.56 168.5v2.2 M209.56 254.5v-2.2 M218.97 24.5v2.2 M218.97 168.5v-2.2 M218.97 168.5v2.2 M218.97 254.5v-2.2 M227.27 24.5v2.2 M227.27 168.5v-2.2 M227.27 168.5v2.2 M227.27 254.5v-2.2 M234.7 24.5v4 M234.7 168.5v-4 M234.7 168.5v4 M234.7 254.5v-4 M283.56 24.5v2.2 M283.56 168.5v-2.2 M283.56 168.5v2.2 M283.56 254.5v-2.2 M312.14 24.5v2.2 M312.14 168.5v-2.2 M312.14 168.5v2.2 M312.14 254.5v-2.2 M332.41 24.5v2.2 M332.41 168.5v-2.2 M332.41 168.5v2.2 M332.41 254.5v-2.2 M36.5 159.27h2.2 M345.5 159.27h-2.2 M36.5 150.53h2.2 M345.5 150.53h-2.2 M36.5 144.34h2.2 M345.5 144.34h-2.2 M36.5 139.53h2.2 M345.5 139.53h-2.2 M36.5 135.6h2.2 M345.5 135.6h-2.2 M36.5 132.28h2.2 M345.5 132.28h-2.2 M36.5 129.41h2.2 M345.5 129.41h-2.2 M36.5 126.87h2.2 M345.5 126.87h-2.2 M36.5 124.6h4 M345.5 124.6h-4 M36.5 109.67h2.2 M345.5 109.67h-2.2 M36.5 100.93h2.2 M345.5 100.93h-2.2 M36.5 94.74h2.2 M345.5 94.74h-2.2 M36.5 89.93h2.2 M345.5 89.93h-2.2 M36.5 86h2.2 M345.5 86h-2.2 M36.5 82.68h2.2 M345.5 82.68h-2.2 M36.5 79.81h2.2 M345.5 79.81h-2.2 M36.5 77.27h2.2 M345.5 77.27h-2.2 M36.5 75h4 M345.5 75h-4 M36.5 60.07h2.2 M345.5 60.07h-2.2 M36.5 51.33h2.2 M345.5 51.33h-2.2 M36.5 45.14h2.2 M345.5 45.14h-2.2 M36.5 40.33h2.2 M345.5 40.33h-2.2 M36.5 36.4h2.2 M345.5 36.4h-2.2 M36.5 33.08h2.2 M345.5 33.08h-2.2 M36.5 30.21h2.2 M345.5 30.21h-2.2 M36.5 27.67h2.2 M345.5 27.67h-2.2 M36.5 250.9h4 M345.5 250.9h-4 M36.5 245.82h2.2 M345.5 245.82h-2.2 M36.5 240.74h2.2 M345.5 240.74h-2.2 M36.5 235.66h2.2 M345.5 235.66h-2.2 M36.5 230.58h2.2 M345.5 230.58h-2.2 M36.5 225.5h4 M345.5 225.5h-4 M36.5 220.42h2.2 M345.5 220.42h-2.2 M36.5 215.34h2.2 M345.5 215.34h-2.2 M36.5 210.26h2.2 M345.5 210.26h-2.2 M36.5 205.18h2.2 M345.5 205.18h-2.2 M36.5 200.1h4 M345.5 200.1h-4 M36.5 195.02h2.2 M345.5 195.02h-2.2 M36.5 189.94h2.2 M345.5 189.94h-2.2 M36.5 184.86h2.2 M345.5 184.86h-2.2 M36.5 179.78h2.2 M345.5 179.78h-2.2 M36.5 174.7h4 M345.5 174.7h-4 M36.5 169.62h2.2 M345.5 169.62h-2.2" stroke="#4a4a4a" stroke-width="1.1" fill="none"/>
<text x="80.6" y="7.9" class="tt">NGC 6552 (+archived), MyTorus decoupled free</text>
<text x="72.4" y="266.4" class="t" text-anchor="middle">1</text>
<text x="121.26" y="266.4" class="t" text-anchor="middle">2</text>
<text x="185.84" y="266.4" class="t" text-anchor="middle">5</text>
<text x="234.7" y="266.4" class="t" text-anchor="middle">10</text>
<text x="283.56" y="266.4" class="t" text-anchor="middle">20</text>
<text x="161.8" y="277.5" class="t" style="font-size:10.3px">Energy (keV)</text>
<text x="28.9" y="28.6" class="t" text-anchor="end">0.01</text>
<text x="22.8" y="78.2" class="t" text-anchor="end">10</text><text x="23.3" y="74.9" class="s" textLength="6.0" lengthAdjust="spacingAndGlyphs">&#8722;3</text>
<text x="22.8" y="127.8" class="t" text-anchor="end">10</text><text x="23.3" y="124.5" class="s" textLength="6.0" lengthAdjust="spacingAndGlyphs">&#8722;4</text>
<text x="29.7" y="178.1" class="t" text-anchor="end">2</text>
<text x="29.7" y="203.5" class="t" text-anchor="end">1.5</text>
<text x="29.7" y="228.9" class="t" text-anchor="end">1</text>
<text x="29.7" y="254.3" class="t" text-anchor="end">0.5</text>
<text transform="translate(8,162.8) rotate(-90)" class="t">keV<tspan dy="-3.2" class="s">2</tspan><tspan dy="3.2"> (Photons cm</tspan><tspan dy="-3.2" class="s">&#8722;2</tspan><tspan dy="3.2"> s</tspan><tspan dy="-3.2" class="s">&#8722;1</tspan><tspan dy="3.2"> keV</tspan><tspan dy="-3.2" class="s">&#8722;1</tspan><tspan dy="3.2">)</tspan></text>
<text transform="translate(8,222.5) rotate(-90)" class="t">ratio</text>
<rect x="432.5" y="24.5" width="308" height="230" fill="none" stroke="#4a4a4a" stroke-width="1.1"/>
<line x1="432.5" y1="168.5" x2="740.5" y2="168.5" stroke="#4a4a4a" stroke-width="1.1"/>
<path d="M442.96 24.5v2.2 M442.96 168.5v-2.2 M442.96 168.5v2.2 M442.96 254.5v-2.2 M452.37 24.5v2.2 M452.37 168.5v-2.2 M452.37 168.5v2.2 M452.37 254.5v-2.2 M460.67 24.5v2.2 M460.67 168.5v-2.2 M460.67 168.5v2.2 M460.67 254.5v-2.2 M468.1 24.5v4 M468.1 168.5v-4 M468.1 168.5v4 M468.1 254.5v-4 M516.96 24.5v2.2 M516.96 168.5v-2.2 M516.96 168.5v2.2 M516.96 254.5v-2.2 M545.54 24.5v2.2 M545.54 168.5v-2.2 M545.54 168.5v2.2 M545.54 254.5v-2.2 M565.81 24.5v2.2 M565.81 168.5v-2.2 M565.81 168.5v2.2 M565.81 254.5v-2.2 M581.54 24.5v2.2 M581.54 168.5v-2.2 M581.54 168.5v2.2 M581.54 254.5v-2.2 M594.39 24.5v2.2 M594.39 168.5v-2.2 M594.39 168.5v2.2 M594.39 254.5v-2.2 M605.26 24.5v2.2 M605.26 168.5v-2.2 M605.26 168.5v2.2 M605.26 254.5v-2.2 M614.67 24.5v2.2 M614.67 168.5v-2.2 M614.67 168.5v2.2 M614.67 254.5v-2.2 M622.97 24.5v2.2 M622.97 168.5v-2.2 M622.97 168.5v2.2 M622.97 254.5v-2.2 M630.4 24.5v4 M630.4 168.5v-4 M630.4 168.5v4 M630.4 254.5v-4 M679.26 24.5v2.2 M679.26 168.5v-2.2 M679.26 168.5v2.2 M679.26 254.5v-2.2 M707.84 24.5v2.2 M707.84 168.5v-2.2 M707.84 168.5v2.2 M707.84 254.5v-2.2 M728.11 24.5v2.2 M728.11 168.5v-2.2 M728.11 168.5v2.2 M728.11 254.5v-2.2 M432.5 159.27h2.2 M740.5 159.27h-2.2 M432.5 150.53h2.2 M740.5 150.53h-2.2 M432.5 144.34h2.2 M740.5 144.34h-2.2 M432.5 139.53h2.2 M740.5 139.53h-2.2 M432.5 135.6h2.2 M740.5 135.6h-2.2 M432.5 132.28h2.2 M740.5 132.28h-2.2 M432.5 129.41h2.2 M740.5 129.41h-2.2 M432.5 126.87h2.2 M740.5 126.87h-2.2 M432.5 124.6h4 M740.5 124.6h-4 M432.5 109.67h2.2 M740.5 109.67h-2.2 M432.5 100.93h2.2 M740.5 100.93h-2.2 M432.5 94.74h2.2 M740.5 94.74h-2.2 M432.5 89.93h2.2 M740.5 89.93h-2.2 M432.5 86h2.2 M740.5 86h-2.2 M432.5 82.68h2.2 M740.5 82.68h-2.2 M432.5 79.81h2.2 M740.5 79.81h-2.2 M432.5 77.27h2.2 M740.5 77.27h-2.2 M432.5 75h4 M740.5 75h-4 M432.5 60.07h2.2 M740.5 60.07h-2.2 M432.5 51.33h2.2 M740.5 51.33h-2.2 M432.5 45.14h2.2 M740.5 45.14h-2.2 M432.5 40.33h2.2 M740.5 40.33h-2.2 M432.5 36.4h2.2 M740.5 36.4h-2.2 M432.5 33.08h2.2 M740.5 33.08h-2.2 M432.5 30.21h2.2 M740.5 30.21h-2.2 M432.5 27.67h2.2 M740.5 27.67h-2.2 M432.5 250.9h4 M740.5 250.9h-4 M432.5 245.82h2.2 M740.5 245.82h-2.2 M432.5 240.74h2.2 M740.5 240.74h-2.2 M432.5 235.66h2.2 M740.5 235.66h-2.2 M432.5 230.58h2.2 M740.5 230.58h-2.2 M432.5 225.5h4 M740.5 225.5h-4 M432.5 220.42h2.2 M740.5 220.42h-2.2 M432.5 215.34h2.2 M740.5 215.34h-2.2 M432.5 210.26h2.2 M740.5 210.26h-2.2 M432.5 205.18h2.2 M740.5 205.18h-2.2 M432.5 200.1h4 M740.5 200.1h-4 M432.5 195.02h2.2 M740.5 195.02h-2.2 M432.5 189.94h2.2 M740.5 189.94h-2.2 M432.5 184.86h2.2 M740.5 184.86h-2.2 M432.5 179.78h2.2 M740.5 179.78h-2.2 M432.5 174.7h4 M740.5 174.7h-4 M432.5 169.62h2.2 M740.5 169.62h-2.2" stroke="#4a4a4a" stroke-width="1.1" fill="none"/>
<text x="512.1" y="7.9" class="tt">NGC 6552 (+archived), borus02</text>
<text x="468.1" y="266.4" class="t" text-anchor="middle">1</text>
<text x="516.96" y="266.4" class="t" text-anchor="middle">2</text>
<text x="581.54" y="266.4" class="t" text-anchor="middle">5</text>
<text x="630.4" y="266.4" class="t" text-anchor="middle">10</text>
<text x="679.26" y="266.4" class="t" text-anchor="middle">20</text>
<text x="557.5" y="277.5" class="t" style="font-size:10.3px">Energy (keV)</text>
<text x="424.9" y="28.6" class="t" text-anchor="end">0.01</text>
<text x="418.8" y="78.2" class="t" text-anchor="end">10</text><text x="419.3" y="74.9" class="s" textLength="6.0" lengthAdjust="spacingAndGlyphs">&#8722;3</text>
<text x="418.8" y="127.8" class="t" text-anchor="end">10</text><text x="419.3" y="124.5" class="s" textLength="6.0" lengthAdjust="spacingAndGlyphs">&#8722;4</text>
<text x="425.7" y="178.1" class="t" text-anchor="end">2</text>
<text x="425.7" y="203.5" class="t" text-anchor="end">1.5</text>
<text x="425.7" y="228.9" class="t" text-anchor="end">1</text>
<text x="425.7" y="254.3" class="t" text-anchor="end">0.5</text>
<text transform="translate(403.7,162.8) rotate(-90)" class="t">keV<tspan dy="-3.2" class="s">2</tspan><tspan dy="3.2"> (Photons cm</tspan><tspan dy="-3.2" class="s">&#8722;2</tspan><tspan dy="3.2"> s</tspan><tspan dy="-3.2" class="s">&#8722;1</tspan><tspan dy="3.2"> keV</tspan><tspan dy="-3.2" class="s">&#8722;1</tspan><tspan dy="3.2">)</tspan></text>
<text transform="translate(403.7,222.5) rotate(-90)" class="t">ratio</text>
</svg></body></html>
